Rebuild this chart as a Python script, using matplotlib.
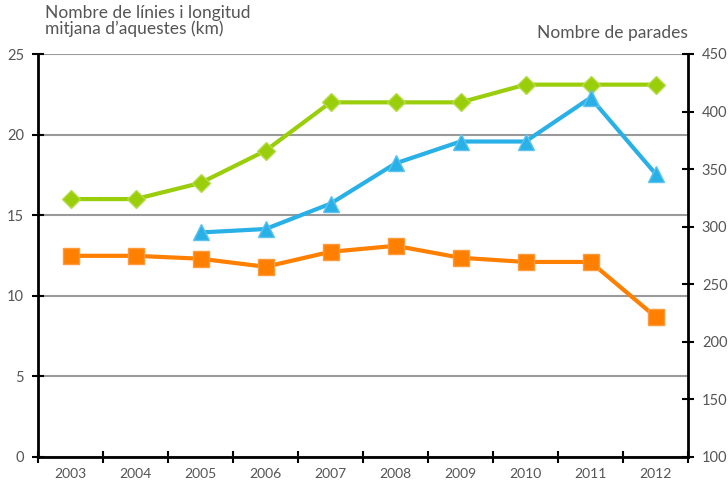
import matplotlib.pyplot as plt
import numpy as np

# Data
years = ["2003", "2004", "2005", "2006", "2007", "2008", "2009", "2010", "2011", "2012"]
num_lines = [16, 16, 17, 19, 22, 22, 22, 23.1, 23.1, 23.1]
avg_length = [12.48, 12.48, 12.3, 11.8, 12.73, 13.1, 12.36, 12.1, 12.1, 8.7]
stop_years = ["2005", "2006", "2007", "2008", "2009", "2010", "2011", "2012"]
num_stops = [295, 298, 320, 355, 374, 374, 412, 346]

green = "#9ACD0A"
blue = "#29B0E6"
orange = "#FF7F00"
text_col = "#555555"

plt.rcParams["font.family"] = ["Lato", "DejaVu Sans"]

fig = plt.figure(figsize=(7.28, 4.82), dpi=100)
ax = fig.add_axes([38 / 728, 25 / 482, 650 / 728, 403 / 482])
ax2 = ax.twinx()

x = np.arange(len(years))
xs = np.array([years.index(y) for y in stop_years])

# Gridlines for the left axis
ax.set_ylim(0, 25)
ax.set_xlim(-0.5, len(years) - 0.5)
ax.set_yticks([0, 5, 10, 15, 20, 25])
ax.grid(axis="y", color="#9a9a9a", linewidth=1.5)
ax.set_axisbelow(True)

ax.plot(x, num_lines, color=green, linewidth=3, marker="D", markersize=9,
        markeredgecolor="#b5dd4a", markeredgewidth=1, zorder=3)
ax.plot(x, avg_length, color=orange, linewidth=3, marker="s", markersize=12,
        markeredgecolor="#ff9a3a", markeredgewidth=1, zorder=3)

ax2.set_ylim(100, 450)
ax2.set_yticks(np.arange(100, 451, 50))
ax2.plot(xs, num_stops, color=blue, linewidth=3, marker="^", markersize=11,
         markeredgecolor="#5cc3ee", markeredgewidth=1, zorder=3)

# Category labels centred, ticks on boundaries
ax.set_xticks(x)
ax.set_xticklabels(years)
ax.set_xticks(np.arange(-0.5, len(years)), minor=True)
ax.tick_params(axis="x", which="major", length=0, pad=8, labelsize=10, labelcolor=text_col)
ax.tick_params(axis="x", which="minor", direction="inout", length=8, width=1.5, color="black")
ax.tick_params(axis="y", direction="inout", length=8, width=1.5, color="black",
               labelsize=10.5, labelcolor=text_col, pad=6)
ax2.tick_params(axis="y", direction="inout", length=8, width=1.5, color="black",
                labelsize=10.5, labelcolor=text_col, pad=6)

for a in (ax, ax2):
    a.spines["top"].set_visible(False)
    for s in ("left", "right", "bottom"):
        a.spines[s].set_linewidth(2)
        a.spines[s].set_color("black")
ax.spines["right"].set_visible(False)
ax2.spines["left"].set_visible(False)
ax2.spines["bottom"].set_visible(False)

fig.text(45 / 728, 1 - 5 / 482, "Nombre de línies i longitud\nmitjana d\u2019aquestes (km)",
         ha="left", va="top", fontsize=12.5, color=text_col, linespacing=0.95)
fig.text(688 / 728, 1 - 25 / 482, "Nombre de parades",
         ha="right", va="top", fontsize=12.5, color=text_col)

fig.savefig("out.png", dpi=100)
